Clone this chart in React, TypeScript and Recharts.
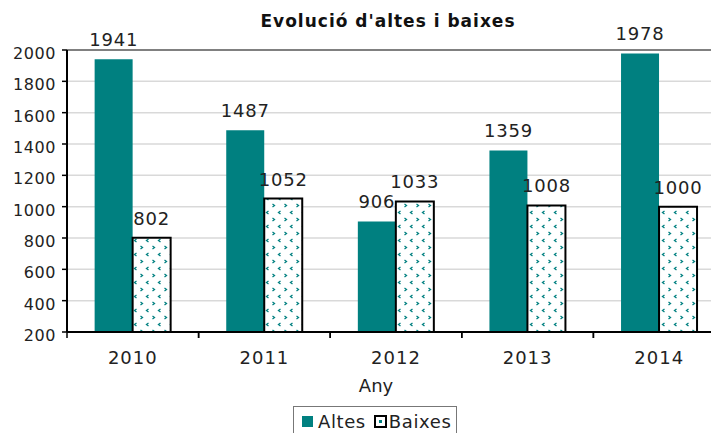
import React from 'react';
import { BarChart, Bar, XAxis, YAxis, CartesianGrid, LabelList, ReferenceLine, Legend } from 'recharts';

const categories = ['2010', '2011', '2012', '2013', '2014'];
const altes = [1941, 1487, 906, 1359, 1978];
const baixes = [802, 1052, 1033, 1008, 1000];
const yTicks = [200, 400, 600, 800, 1000, 1200, 1400, 1600, 1800, 2000];
const seriesNames = ['Altes', 'Baixes'];
const title = "Evolució d'altes i baixes";
const xTitle = 'Any';

const data = categories.map((c, i) => ({ year: c, altes: altes[i], baixes: baixes[i] }));

const FONT = "'DejaVu Sans', Verdana, sans-serif";
const TEAL = '#008080';
const TEXT = '#222';

const XTick = (props: any) => {
  const { x, y, payload } = props;
  const half = payload && typeof payload.offset === 'number' ? payload.offset : 0;
  return (
    <g>
      <line x1={x - half} x2={x - half} y1={y} y2={y + 6} stroke="#000" strokeWidth={1.5} />
      <line x1={x + half} x2={x + half} y1={y} y2={y + 6} stroke="#000" strokeWidth={1.5} />
      <text x={x} y={y + 32} textAnchor="middle" fontSize={18} fontFamily={FONT} fill={TEXT} style={{ letterSpacing: 1 }}>
        {payload.value}
      </text>
    </g>
  );
};

const YTick = (props: any) => {
  const { x, y, payload } = props;
  return (
    <text x={x} y={y + 9} textAnchor="end" fontSize={16} fontFamily={FONT} fill={TEXT} style={{ letterSpacing: 0.6 }}>
      {payload.value}
    </text>
  );
};

const DataLabel = (props: any) => {
  const { x, y, width, value } = props;
  return (
    <text x={x + width / 2} y={y - 13} textAnchor="middle" fontSize={18} fontFamily={FONT} fill={TEXT} style={{ letterSpacing: 0.8 }}>
      {value}
    </text>
  );
};

const LegendContent = () => (
  <div
    style={{
      border: '1px solid #777',
      padding: '4px 5px 8px 8px',
      display: 'flex',
      alignItems: 'center',
      fontFamily: FONT,
      fontSize: 18,
      color: TEXT,
      background: '#fff',
      whiteSpace: 'nowrap',
      letterSpacing: 0.6,
    }}
  >
    <span style={{ display: 'inline-block', width: 11, height: 11, background: TEAL, marginRight: 5 }} />
    <span style={{ marginRight: 8 }}>{seriesNames[0]}</span>
    <svg width={13} height={13} style={{ marginRight: 2 }}>
      <rect x={1} y={1} width={11} height={11} fill="#fff" stroke="#000" strokeWidth={2} />
      <rect x={5} y={5} width={3} height={3} fill={TEAL} />
    </svg>
    <span>{seriesNames[1]}</span>
  </div>
);

export default function App() {
  return (
    <div style={{ margin: '-8px 0 0 -8px', width: 719, height: 433, overflow: 'hidden', position: 'relative', background: '#fff' }}>
      <div
        style={{
          position: 'absolute',
          top: 11,
          left: 0,
          width: 776,
          textAlign: 'center',
          fontFamily: FONT,
          fontWeight: 'bold',
          fontSize: 17,
          letterSpacing: 1,
          color: '#111',
          zIndex: 2,
        }}
      >
        {title}
      </div>
      <BarChart
        width={740}
        height={433}
        data={data}
        margin={{ top: 50, right: 15, bottom: 39, left: 0 }}
        barCategoryGap="21%"
        barGap={0}
      >
        <defs>
          <pattern id="dots" patternUnits="userSpaceOnUse" width={12} height={14}>
            <rect width={12} height={14} fill="#fff" />
            <path d="M4.5,1 L2.5,2.5 L4.5,4" stroke={TEAL} strokeWidth={1.3} fill="none" />
            <path d="M8.5,8 L10.5,9.5 L8.5,11" stroke={TEAL} strokeWidth={1.3} fill="none" />
          </pattern>
        </defs>
        <CartesianGrid vertical={false} stroke="#d9d9d9" strokeWidth={1.5} />
        <XAxis
          dataKey="year"
          height={62}
          axisLine={{ stroke: '#000', strokeWidth: 2 }}
          tickLine={false}
          tickSize={0}
          tickMargin={0}
          tick={<XTick />}
          interval={0}
          label={{ value: xTitle, position: 'insideBottom', offset: 2, dx: -20, fontSize: 18, fontFamily: FONT, fill: TEXT }}
        />
        <YAxis
          width={67}
          domain={[200, 2000]}
          ticks={yTicks}
          interval={0}
          axisLine={{ stroke: '#000', strokeWidth: 2 }}
          tickLine={{ stroke: '#000', strokeWidth: 1.5 }}
          tickSize={5}
          tickMargin={6}
          tick={<YTick />}
        />
        <ReferenceLine y={2000} stroke="#808080" strokeWidth={2} />
        <Legend verticalAlign="middle" content={<LegendContent />} wrapperStyle={{ left: 293, top: 406, width: 'auto', height: 'auto' }} />
        <Bar dataKey="altes" name={seriesNames[0]} fill={TEAL} isAnimationActive={false}>
          <LabelList dataKey="altes" content={<DataLabel />} />
        </Bar>
        <Bar dataKey="baixes" name={seriesNames[1]} fill="url(#dots)" stroke="#000" strokeWidth={2} isAnimationActive={false}>
          <LabelList dataKey="baixes" content={<DataLabel />} />
        </Bar>
      </BarChart>
    </div>
  );
}
